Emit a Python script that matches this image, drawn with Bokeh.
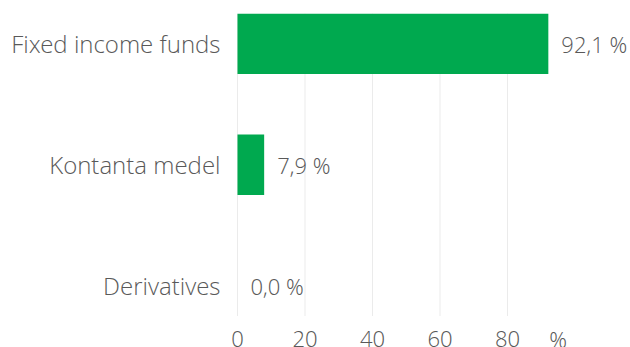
from bokeh.plotting import figure
from bokeh.models import Range1d, FixedTicker, ColumnDataSource
from bokeh.embed import file_html
from bokeh.resources import INLINE
from bokeh.core.properties import value

categories = ["Fixed income funds", "Kontanta medel", "Derivatives"]
values = [92.1, 7.9, 0.0]
labels = ["92,1 %", "7,9 %", "0,0 %"]
x_ticks = [0, 20, 40, 60, 80]
x_tick_labels = ["0", "20", "40", "60", "80"]
unit_label = "%"
unit_pos = 95

FONT = "Open Sans Light"
TXT = "#595959"
GREEN = "#00A94F"
GRID = "#EBEBEB"

pos = list(range(len(categories)))
src = ColumnDataSource(dict(y=pos, v=values, lab=labels))

H, W = 347, 630
TOP = 13
FRAME_LEFT = 227          # frame edge (pixels)
ZERO_PX = 237             # where x = 0 sits (pixels)
PX_PER_UNIT = 3.375
PX_PER_CAT = 121.0
x_start = -(ZERO_PX - FRAME_LEFT) / PX_PER_UNIT
x_end = x_start + (W - FRAME_LEFT) / PX_PER_UNIT
y_top = -0.25
y_bot = y_top + (H - TOP) / PX_PER_CAT
grid_end = len(categories) - 0.75

p = figure(width=W, height=H, output_backend="svg", toolbar_location=None,
           x_range=Range1d(x_start, x_end), y_range=Range1d(y_bot, y_top),
           x_axis_type=None,
           min_border_left=FRAME_LEFT, min_border_right=0, min_border_top=TOP,
           min_border_bottom=0)
p.outline_line_color = None
p.background_fill_color = "white"
p.border_fill_color = "white"
p.xgrid.grid_line_color = None
p.ygrid.grid_line_color = None

# vertical grid lines at the x ticks
p.segment(x0=x_ticks, x1=x_ticks, y0=[y_top] * len(x_ticks), y1=[grid_end] * len(x_ticks),
          line_color=GRID, line_width=1)

p.hbar(y="y", right="v", left=0, height=0.5, source=src, color=GREEN, line_color=None)
p.text(x="v", y="y", text="lab", source=src, x_offset=13, text_align="left",
       text_baseline="middle", text_font=value(FONT), text_font_size="22px",
       text_color=TXT)

# x tick labels and unit under the grid
p.text(x=x_ticks, y=[grid_end] * len(x_ticks),
       text=x_tick_labels, y_offset=15, text_align="center",
       text_baseline="top", text_font=value(FONT), text_font_size="22px",
       text_color=TXT)
p.text(x=[unit_pos], y=[grid_end], text=[unit_label], y_offset=8,
       text_align="center", text_baseline="top", text_font=value(FONT),
       text_font_size="22px", text_color=TXT)

p.yaxis.ticker = FixedTicker(ticks=pos)
p.yaxis.major_label_overrides = {i: c for i, c in enumerate(categories)}
p.yaxis.axis_line_color = None
p.yaxis.major_tick_line_color = None
p.yaxis.minor_tick_line_color = None
p.yaxis.major_tick_out = 0
p.yaxis.major_tick_in = 0
p.yaxis.major_label_text_font = FONT
p.yaxis.major_label_text_font_size = "24px"
p.yaxis.major_label_text_color = TXT
p.yaxis.major_label_standoff = 7

open("out.html", "w").write(file_html(p, INLINE))
